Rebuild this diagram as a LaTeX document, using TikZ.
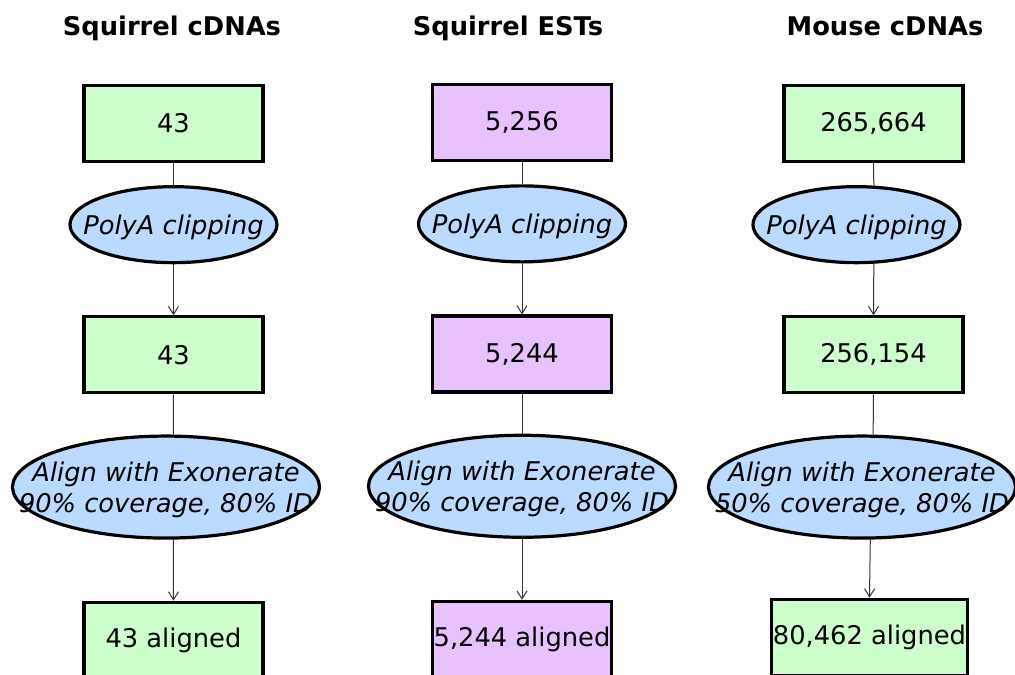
\documentclass[tikz,border=0pt]{standalone}
\usepackage{fontspec}
\setmainfont{DejaVu Sans}
\usetikzlibrary{positioning,shapes.geometric,arrows.meta}

\definecolor{cdnagreen}{HTML}{CCFFCC}
\definecolor{estpurple}{HTML}{E8C2FF}
\definecolor{procblue}{HTML}{BBDAFF}

\begin{document}
\begin{tikzpicture}[-,auto,
                    every node/.style={font=\fontsize{19.3pt}{23.25pt}\selectfont},
                    title node/.style={font=\fontsize{19.3pt}{23.25pt}\selectfont\bfseries,anchor=base},
                    count node/.style={rectangle,draw,line width=2.4pt,inner sep=0pt,
                                       minimum width=134.25pt,minimum height=57pt},
                    proc text/.style={font=\fontsize{19.3pt}{23.25pt}\selectfont\itshape,
                                      align=center,inner sep=0pt,yshift=-2pt},
                    proc node/.style={ellipse,draw,line width=2.4pt,fill=procblue,inner sep=0pt,
                                      minimum width=155.25pt,minimum height=57pt},
                    wide proc/.style={proc node,minimum width=230.25pt,minimum height=76.5pt},
                    conn/.style={draw=black!80,line width=0.75pt},
                    arr/.style={-{Straight Barb[length=6pt,width=7.5pt]}}]

  \useasboundingbox (0,0) rectangle (761.25pt,-506.25pt);

  \node[title node] (t1) at (129pt,-26.25pt) {Squirrel cDNAs};
  \node[title node] (t2) at (381pt,-26.25pt) {Squirrel ESTs};
  \node[title node] (t3) at (663.75pt,-26.25pt) {Mouse cDNAs};

  % squirrel cDNAs
  \node[count node,fill=cdnagreen] (sc1) at (130.1pt,-92.6pt) {43};
  \node[proc node,label={[proc text]center:PolyA clipping}] (sc2) [below=16.5pt of sc1] {};
  \node[count node,fill=cdnagreen] (sc3) [below=38.25pt of sc2] {43};
  \node[wide proc,label={[proc text]center:Align with Exonerate\\90\% coverage, 80\% ID}]
       (sc4) [below=30pt of sc3,xshift=-5.6pt] {};
  \node[count node,fill=cdnagreen] (sc5) [below=45.75pt of sc4,xshift=5.6pt] {43 aligned};

  % squirrel ESTs
  \node[count node,fill=estpurple] (se1) at (391.5pt,-92pt) {5,256};
  \node[proc node,label={[proc text]center:PolyA clipping}] (se2) [below=16.5pt of se1] {};
  \node[count node,fill=estpurple] (se3) [below=38.25pt of se2] {5,244};
  \node[wide proc,label={[proc text]center:Align with Exonerate\\90\% coverage, 80\% ID}]
       (se4) [below=30pt of se3] {};
  \node[count node,fill=estpurple] (se5) [below=45.75pt of se4] {5,244 aligned};

  % mouse cDNAs
  \node[count node,fill=cdnagreen] (mc1) at (655.1pt,-92.6pt) {265,664};
  \node[proc node,label={[proc text]center:PolyA clipping}] (mc2) [below=16.5pt of mc1,xshift=-12.75pt] {};
  \node[count node,fill=cdnagreen] (mc3) [below=38.25pt of mc2,xshift=12.75pt] {256,154};
  \node[wide proc,label={[proc text]center:Align with Exonerate\\50\% coverage, 80\% ID}]
       (mc4) [below=30pt of mc3,xshift=-8.6pt] {};
  \node[count node,fill=cdnagreen,minimum width=147pt] (mc5) [below=43.5pt of mc4,xshift=5.6pt] {80,462 aligned};

  \path[conn]
    (sc1) edge (sc2)
    (sc2) edge[arr] (sc3)
    (sc3.south) edge (sc4.82)
    (sc4.-82) edge[arr] (sc5.north)
    (se1) edge (se2)
    (se2) edge[arr] (se3)
    (se3) edge (se4)
    (se4) edge[arr] (se5)
    (mc1.south) edge (mc2.66)
    (mc2.-66) edge[arr] (mc3.north)
    (mc3.south) edge (mc4.78)
    (mc4.-81) edge[arr] (mc5.north);
\end{tikzpicture}
\end{document}
